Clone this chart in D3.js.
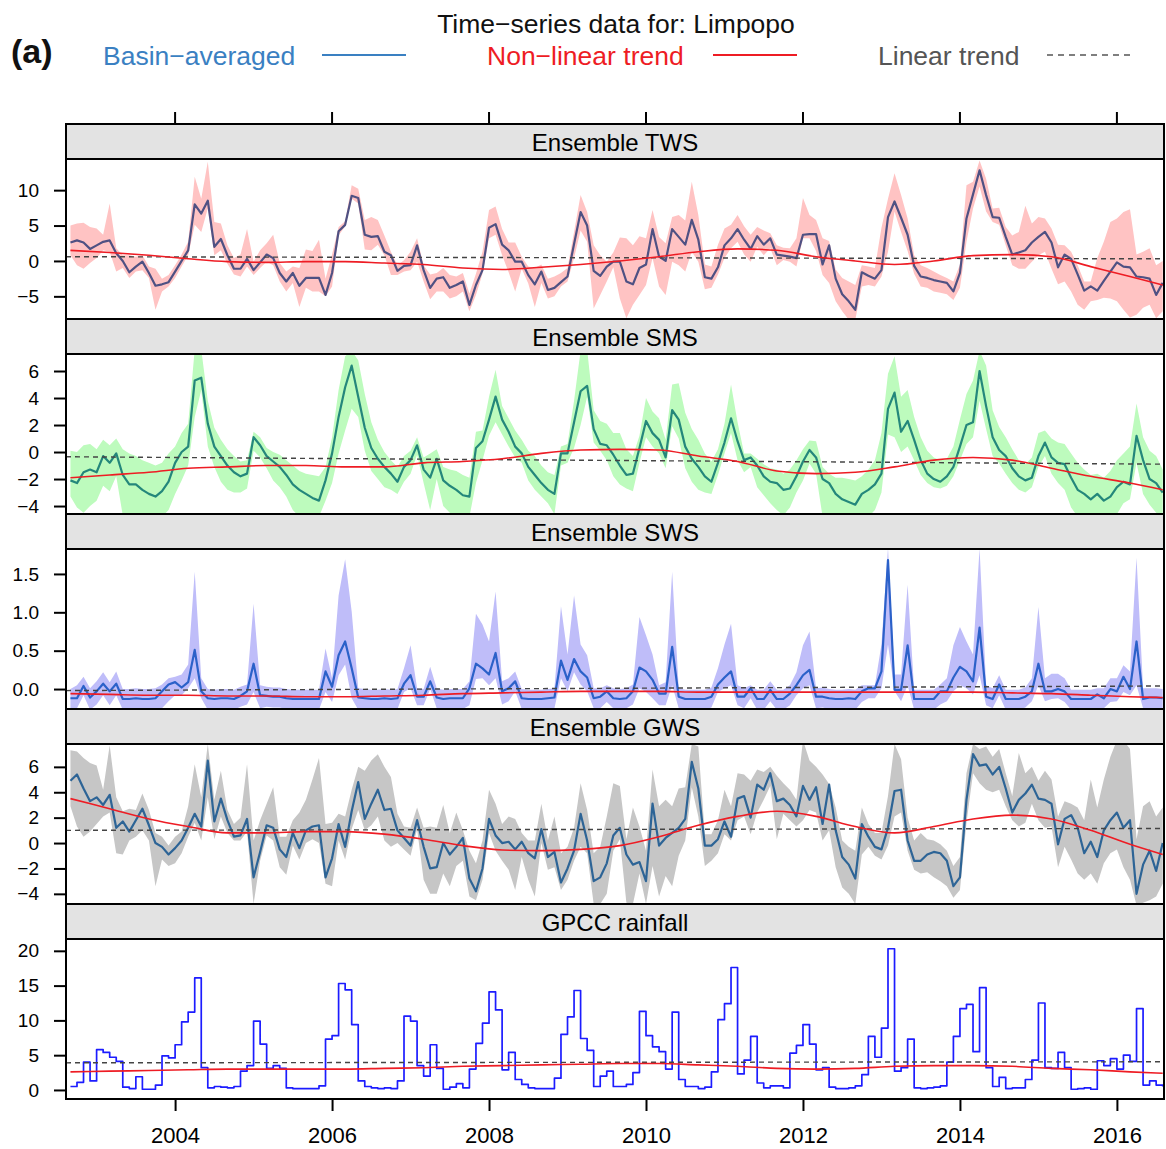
<!DOCTYPE html>
<html>
<head>
<meta charset="utf-8">
<script src="https://cdn.jsdelivr.net/npm/d3@7"></script>
<style>
body { margin: 0; background: #fff; }
text { font-family: "Liberation Sans", Arial, sans-serif; }
</style>
</head>
<body>
<svg id="chart" width="1166" height="1149"></svg>
<script>
// monthly series, Aug 2002 - Jul 2016 (168 months)
var startYear = 2002, startMonth = 8, nMonths = 168;

var twsValues = [2.6,2.9,2.6,1.7,2.2,2.7,2.9,1.1,0,-1.6,
-0.8,-0.1,-1.7,-3.5,-3.3,-3.0,-1.5,0,1.5,8.0,
6.7,8.5,2.0,3.1,0.8,-1.1,-1.1,0.3,-1.3,-0.2,
0.9,0.4,-1.7,-2.9,-1.7,-3.5,-2.4,-2.4,-2.4,-4.8,
-1.7,4.2,5.1,9.2,8.9,3.7,3.4,3.5,1.3,0.8,
-1.4,-0.7,-0.6,2.2,-1.3,-3.8,-2.5,-2.3,-3.8,-3.4,
-2.9,-6.2,-3.4,-1.3,4.7,5.2,2.3,1.5,-0.1,-0.1,
-2.0,-3.3,-1.5,-4.1,-3.8,-3.0,-2.2,2.4,6.9,5.0,
-1.4,-2.1,-0.8,-0.1,
-0.1,-2.9,-3.3,-1.0,-0.5,4.5,0.6,0,4.5,3.4,
2.3,5.8,3.0,-2.3,-2.5,-0.9,2.2,3.2,4.5,3.0,
1.7,3.5,2.3,3.2,0.9,0.75,0.6,0.4,3.7,3.8,
3.8,-0.5,2.2,-2.5,-4.7,-5.7,-6.9,-1.6,-2.1,-2.5,
-1.3,6.2,8.4,6.1,3.7,-0.7,-2.2,-2.4,-2.7,-2.9,
-3.1,-4.3,-1.7,6.0,9.4,12.8,9.3,6.2,6.1,3.4,
0.9,1.2,1.5,2.6,3.4,4.1,2.6,-0.9,0.9,0.3,
-1.9,-4.2,-3.6,-4.2,-2.8,-1.5,-0.2,-0.8,-0.9,-2.2,
-2.3,-2.5,-4.8,-3.1];
var twsUpper = [2.4,2.4,2.8,3.1,2.4,1.0,5.2,0.7,0.8,2.4,
1.4,0.9,0.9,2.4,0.8,1.0,0.9,0.9,1.2,3.9,
2.1,5.5,3.5,2.2,1.4,1.5,2.0,4.2,1.2,1.7,
1.6,3.3,1.4,1.4,0.9,2.5,4.0,3.8,5.4,2.3,
2.6,0.6,0.5,1.5,1.3,2.1,2.8,2.3,2.3,0.5,
0.8,0.8,1.9,1.0,0.7,1.9,0.8,1.3,1.8,1.2,
1.2,1.6,1.6,2.6,2.5,2.5,2.2,1.1,2.7,0.7,
1.2,2.3,1.0,1.6,1.6,1.3,1.2,1.7,2.4,1.9,
3.6,2.9,0.7,1.3,
3.4,6.1,5.5,4.5,3.7,2.7,2.8,2.5,1.7,3.1,
3.4,5.4,3.5,1.8,1.7,3.2,2.4,1.9,2.0,1.9,
2.0,1.3,2.0,0.7,1.3,1.1,1.2,2.8,5.2,2.7,
2.0,3.7,0.6,1.3,2.3,2.8,3.5,1.0,1.3,1.5,
6.0,2.6,4.0,3.2,2.3,1.5,1.6,1.4,1.2,0.9,
0.7,1.4,1.2,4.7,1.8,1.4,2.3,1.2,1.4,1.4,
2.7,2.9,6.3,2.7,2.8,1.9,2.0,3.2,1.3,1.0,
1.3,1.3,0.7,4.6,5.5,7.0,6.2,7.7,8.2,3.1,
3.6,4.3,4.2,3.1];
var twsLower = [1.8,3.5,3.7,2.0,1.8,1.2,1.6,2.6,1.0,0.8,
0.7,1.2,0.7,3.4,1.0,0.6,0.9,0.8,0.7,2.9,
2.6,1.1,1.2,1.6,1.2,0.8,1.1,1.1,0.7,0.8,
1.0,1.0,1.2,1.4,1.4,3.0,1.4,1.9,1.9,0.2,
1.9,0.6,0.2,0.4,0.8,2.1,1.9,1.2,0.5,2.8,
0.6,0.8,0.7,2.3,1.6,1.6,1.8,2.0,1.5,1.6,
1.4,0.9,1.4,0.5,1.5,1.5,1.5,3.1,4.2,1.0,
1.2,3.2,1.6,1.2,1.2,0.6,0.7,2.0,2.6,2.3,
5.3,2.7,2.1,0.8,
5.2,5.2,2.9,3.8,2.9,4.1,4.2,4.8,4.6,4.0,
3.8,4.5,3.1,1.7,1.3,1.0,1.8,1.4,1.8,2.1,
1.8,1.5,1.5,1.4,1.5,0.6,0.7,1.2,0.5,0.6,
2.4,1.5,5.3,3.2,2.4,2.6,1.4,2.0,1.3,1.1,
0.9,4.9,1.4,2.0,2.3,1.1,1.4,1.4,1.6,1.6,
1.6,1.2,2.1,3.3,2.0,2.3,2.3,0.7,1.0,1.2,
1.5,2.3,2.6,2.7,2.6,2.8,3.7,2.4,3.8,4.6,
4.3,2.7,2.1,1.3,2.4,3.8,5.5,6.1,7.1,5.4,
4.3,3.7,3.3,4.0];

var smsValues = [-2.1,-2.3,-1.5,-1.3,-1.5,-0.3,-0.8,-0.1,-1.7,-2.4,
-2.4,-2.8,-3.1,-3.3,-2.9,-2.2,-0.8,0,0.4,5.3,
5.5,2.1,0.4,-0.3,-1.0,-1.5,-1.8,-1.6,1.1,0.5,
-0.3,-0.7,-1.1,-1.7,-2.4,-2.8,-3.1,-3.4,-3.6,-2.1,
-0.1,2.6,4.8,6.4,4.1,1.8,0.3,-0.5,-1.1,-1.6,
-2.2,-1.1,-0.6,0.5,-1.3,-1.9,-0.5,-2.1,-2.5,-2.8,
-3.2,-3.3,0.3,0.8,2.4,4.1,2.4,1.5,0.4,-0.1,
-1.1,-1.7,-2.3,-2.8,-3.1,-0.1,-0.1,2.2,4.5,4.9,
1.7,0.6,0.5,-0.2,
-1.0,-1.7,-1.6,0.3,2.3,1.4,0.9,-0.4,3.1,2.4,
0.4,-0.5,-1.1,-1.8,-2.2,-0.8,0.7,2.5,0.8,-0.6,
-0.4,-1.0,-1.8,-2.2,-2.3,-2.8,-2.7,-1.8,-0.7,0.15,
-0.4,-2.0,-2.3,-3.1,-3.5,-3.7,-3.9,-3.1,-2.8,-2.4,
-1.6,3.2,4.4,1.5,2.3,0.9,-0.6,-1.6,-2.0,-2.2,
-1.8,-1.1,0.4,2.0,2.2,6.0,3.4,1.1,0.15,-0.3,
-1.2,-1.8,-2.1,-1.9,-0.3,0.7,-0.4,-0.8,-0.9,-1.9,
-2.8,-3.1,-3.5,-3.1,-3.6,-3.3,-2.6,-2.2,-2.4,1.2,
-0.6,-2.0,-2.3,-3.0];
var smsUpper = [2.2,2.3,2.0,1.9,1.7,1.2,1.3,1.1,1.9,2.3,
2.1,2.2,2.3,2.3,2.1,2.1,1.2,1.4,1.7,2.3,
2.1,1.7,1.4,1.2,1.2,1.2,1.1,1.0,0.4,0.6,
0.6,0.7,0.9,1.1,1.4,1.4,1.5,1.7,1.8,1.0,
1.2,2.0,2.3,1.1,2.7,2.5,1.9,1.4,1.1,1.0,
1.1,0.8,0.7,0.6,0.9,1.8,0.7,1.0,1.2,1.4,
1.5,1.4,1.2,0.8,1.7,2.0,1.0,1.0,1.2,1.0,
1.2,1.4,1.3,1.3,1.4,0.5,0.7,1.6,3.0,2.7,
1.4,1.7,1.6,1.6,
2.4,1.9,1.3,0.9,1.7,1.6,1.6,1.3,1.9,2.7,
2.5,2.2,2.0,1.7,1.5,1.0,1.4,2.5,1.4,0.5,
0.3,0.5,0.9,1.0,1.0,1.2,1.4,1.2,0.9,0.7,
1.2,0.9,0.7,1.2,1.6,1.7,1.8,1.3,1.5,1.8,
3.0,2.6,2.7,2.6,2.3,1.7,1.7,1.7,1.6,1.6,
1.3,1.5,2.0,2.3,3.1,1.5,3.0,2.0,1.7,1.4,
1.4,1.2,1.2,1.5,1.7,0.9,1.4,1.5,1.5,1.8,
2.0,1.8,1.8,1.5,1.7,1.9,2.0,2.1,2.8,2.4,
1.7,2.1,2.0,1.7];
var smsLower = [1.2,1.8,3.0,2.7,2.1,2.2,2.1,1.7,3.0,2.4,
2.3,2.0,1.7,1.5,1.9,2.1,2.3,2.1,1.4,2.7,
0.9,1.7,1.5,1.9,1.8,1.5,1.2,1.1,1.0,0.9,
0.9,1.4,1.5,1.6,1.9,2.0,1.7,1.4,1.2,1.5,
2.2,2.7,3.2,3.2,1.5,1.7,1.7,1.5,1.5,1.2,
0.9,1.1,1.0,0.7,1.0,2.4,1.5,1.9,2.0,2.0,
1.6,1.5,2.6,1.4,1.2,1.9,1.1,1.1,0.8,0.7,
1.0,1.1,1.0,1.0,1.5,0.9,0.7,1.9,2.5,0.8,
1.0,0.5,1.1,1.6,
1.4,1.0,1.3,1.1,1.2,1.0,1.0,0.8,1.2,1.4,
1.6,1.7,1.7,1.2,0.9,0.9,0.8,1.1,1.4,0.9,
0.7,1.6,1.4,1.6,2.0,1.9,1.4,1.2,1.4,1.0,
1.2,2.8,2.5,1.7,1.3,1.1,0.9,1.7,2.0,1.9,
1.4,1.9,3.3,1.5,1.9,1.5,1.1,0.7,0.6,0.5,
0.7,0.7,1.0,1.4,1.1,2.2,1.7,1.4,1.0,1.3,
1.1,1.0,0.9,0.7,0.8,1.0,1.2,1.5,1.9,2.2,
2.0,1.7,1.3,1.7,1.2,1.5,2.0,1.6,1.1,2.0,
2.5,1.9,2.2,1.8];

var swsValues = [-0.12,-0.12,0.04,-0.11,-0.03,0.07,-0.03,0.07,-0.13,-0.13,
-0.12,-0.13,-0.13,-0.12,-0.03,0.06,0.09,0.02,0.09,0.51,
-0.03,-0.12,-0.13,-0.12,-0.12,-0.13,-0.09,-0.03,0.33,-0.08,
-0.09,-0.1,-0.1,-0.12,-0.13,-0.13,-0.13,-0.13,-0.13,0.23,
0.03,0.44,0.62,0.27,-0.11,-0.12,-0.13,-0.13,-0.12,-0.13,
-0.12,0.07,0.18,-0.1,-0.1,0.1,-0.11,-0.13,-0.12,-0.12,
-0.12,0.01,0.33,0.27,0.19,0.47,-0.03,0.01,0.1,-0.12,
-0.13,-0.13,-0.13,-0.12,-0.11,0.37,0.12,0.39,0.23,0.15,
-0.12,-0.1,-0.03,-0.12,
-0.13,-0.12,-0.03,0.28,0.23,0.12,-0.06,-0.06,0.55,-0.1,
-0.13,-0.13,-0.13,-0.13,-0.1,0.06,0.15,0.23,-0.1,-0.1,
0.01,-0.13,-0.13,-0.01,-0.13,-0.13,-0.06,0.05,0.18,0.25,
-0.1,-0.1,-0.12,-0.13,-0.13,-0.12,-0.13,-0.03,0.01,0.01,
0.23,1.68,-0.01,-0.01,0.57,-0.13,-0.13,-0.13,-0.13,-0.03,
-0.03,0.15,0.29,0.23,0.1,0.8,-0.1,-0.13,0.06,-0.13,
-0.13,-0.13,-0.1,-0.03,0.33,-0.03,-0.03,0,-0.03,-0.13,
-0.13,-0.13,-0.13,-0.07,-0.12,0,-0.03,0.16,0,0.62,
-0.13,-0.11,-0.11,-0.12];
var swsUpper = [0.12,0.17,0.12,0.12,0.13,0.15,0.12,0.16,0.13,0.13,
0.13,0.13,0.13,0.13,0.09,0.08,0.07,0.17,0.23,1.02,
0.17,0.12,0.12,0.12,0.12,0.12,0.12,0.09,0.78,0.13,
0.12,0.12,0.12,0.12,0.12,0.12,0.12,0.12,0.12,0.30,
0.11,0.78,1.07,0.74,0.12,0.12,0.12,0.12,0.12,0.12,
0.12,0.2,0.39,0.11,0.1,0.19,0.12,0.12,0.12,0.12,
0.12,0.09,0.65,0.57,0.43,0.8,0.13,0.13,0.13,0.12,
0.12,0.12,0.12,0.12,0.12,0.71,0.33,0.83,0.35,0.29,
0.13,0.11,0.08,0.13,
0.13,0.13,0.09,0.66,0.47,0.33,0.11,0.15,0.98,0.11,
0.12,0.12,0.12,0.12,0.12,0.21,0.43,0.62,0.15,0.11,
0.04,0.12,0.12,0.11,0.12,0.12,0.11,0.17,0.39,0.5,
0.11,0.12,0.12,0.12,0.12,0.12,0.12,0.08,0.04,0.04,
0.35,0.16,0.2,0.2,0.79,0.12,0.12,0.12,0.12,0.09,
0.17,0.42,0.52,0.39,0.35,1.03,0.15,0.14,0.12,0.12,
0.12,0.12,0.12,0.17,0.74,0.17,0.23,0.2,0.17,0.12,
0.12,0.12,0.12,0.08,0.13,0.14,0.17,0.15,0.23,1.09,
0.14,0.12,0.12,0.12];
var swsLower = [0.13,0.13,0.12,0.16,0.17,0.15,0.18,0.15,0.14,0.14,
0.14,0.14,0.14,0.14,0.22,0.22,0.17,0.10,0.08,0.37,
0.09,0.15,0.14,0.14,0.14,0.14,0.14,0.17,0.37,0.17,
0.14,0.14,0.14,0.14,0.14,0.14,0.14,0.14,0.14,0.27,
0.2,0.26,0.3,0.39,0.16,0.14,0.14,0.14,0.14,0.14,
0.14,0.11,0.17,0.11,0.11,0.10,0.14,0.14,0.14,0.14,
0.14,0.22,0.2,0.13,0.14,0.33,0.17,0.17,0.13,0.14,
0.14,0.14,0.14,0.14,0.14,0.23,0.15,0.17,0.17,0.18,
0.13,0.15,0.14,0.13,
0.14,0.13,0.17,0.27,0.27,0.24,0.15,0.15,0.5,0.15,
0.14,0.14,0.14,0.14,0.14,0.1,0.14,0.18,0.11,0.15,
0.13,0.14,0.14,0.15,0.14,0.14,0.15,0.13,0.17,0.2,
0.15,0.14,0.14,0.14,0.14,0.14,0.14,0.14,0.13,0.13,
0.22,1.1,0.02,0.15,0.52,0.14,0.14,0.14,0.14,0.17,
0.13,0.18,0.24,0.22,0.17,0.62,0.11,0.12,0.14,0.14,
0.14,0.14,0.14,0.13,0.28,0.13,0.1,0.12,0.14,0.14,
0.14,0.14,0.14,0.18,0.13,0.17,0.13,0.2,0.08,0.57,
0.12,0.14,0.14,0.14];

var gwsValues = [4.9,5.4,4.3,3.3,3.6,3.0,3.8,1.2,1.7,0.9,
1.8,2.7,1.4,0,-0.3,-0.9,-0.4,0.2,1.2,2.3,
1.3,6.5,1.7,3.5,1.8,0.5,0.6,1.9,-2.7,-0.7,
1.4,1.2,-0.5,-1.1,0.8,-0.4,1.0,1.3,1.4,-2.7,
-1.2,1.5,-0.3,2.5,4.8,1.9,3.1,4.2,2.6,2.7,
1.0,0.4,-0.2,1.8,-0.3,-2.0,-1.9,0,-0.9,-0.3,
0.4,-2.8,-3.8,-2.0,1.9,0.6,0,0.1,-0.5,0.1,
-0.8,-1.2,1.1,-1.1,-0.7,-3.1,-2.0,-0.6,2.3,0.2,
-3.0,-2.7,-1.6,0.6,
1.2,-0.9,-1.7,-1.5,-3.0,3.1,-0.2,0.4,0.8,1.2,
1.9,6.4,4.3,-0.2,-0.2,0.3,1.7,0.5,3.5,3.7,
2.0,4.6,4.2,5.5,3.3,3.5,3.0,2.1,4.5,3.4,
4.4,1.5,4.6,1.0,-1.1,-1.7,-2.8,1.5,0.5,-0.3,
-0.5,1.2,4.1,4.2,0.2,-1.4,-1.4,-0.9,-0.7,-0.8,
-1.4,-3.4,-2.7,3.4,7.0,6.1,6.2,5.4,6.0,4.3,
2.4,3.4,3.9,4.6,3.5,3.4,3.1,-0.1,1.9,2.2,
1.2,-0.8,0.1,-1.1,1.0,1.8,2.4,1.2,1.8,-4.0,
-1.7,-0.6,-2.2,0];
var gwsUpper = [2.4,1.8,2.4,3.0,2.5,1.2,3.9,2.4,0.8,1.8,
0.8,1.2,1.2,0.8,0.8,0.7,0.9,0.7,1.7,3.9,
2.3,1.3,1.7,2.2,0.8,1.0,1.4,4.3,2.9,2.5,
1.7,3.2,1.0,1.6,1.0,2.8,2.4,3.7,5.3,4.2,
2.8,0.8,2.4,1.7,1.2,3.8,3.4,2.8,3.4,2.5,
1.3,0.9,1.4,1.0,1.5,3.3,3.1,3.0,1.7,2.7,
0.6,2.2,2.2,2.2,2.3,2.5,1.5,2.0,2.4,0.7,
1.0,1.4,2.0,1.3,2.8,2.3,1.7,1.8,2.4,2.4,
2.2,2.4,3.7,4.1,
3.3,1.2,4.5,2.8,2.4,2.7,3.1,3.0,2.1,3.1,
2.5,1.4,3.3,0.9,0.9,1.5,2.5,2.4,2.0,1.7,
2.9,1.2,1.4,0.5,2.0,1.2,1.2,1.3,3.6,3.1,
1.6,3.9,0.05,1.8,1.3,1.4,2.2,1.3,1.0,1.1,
1.3,2.5,3.7,2.4,1.8,1.6,2.2,1.2,0.9,0.7,
0.8,1.6,1.6,2.1,0.8,1.3,1.4,1.4,1.4,1.2,
1.3,3.7,1.6,1.4,1.4,2.3,1.9,2.2,1.4,0.9,
1.6,2.6,4.9,3.9,4.0,5.0,5.7,6.9,5.6,4.3,
4.6,3.9,4.3,2.8];
var gwsLower = [2.0,4.1,3.8,2.4,2.1,0.9,1.4,2.0,2.6,0.7,
1.3,1.7,1.2,3.4,1.0,0.9,1.2,1.0,0.7,0.7,
1.1,2.9,1.4,1.4,1.0,0.3,0.4,1.0,2.1,0.7,
0.8,1.0,1.4,1.4,1.0,0.9,1.0,1.0,1.4,0.5,
2.2,1.3,1.0,1.4,2.2,0.9,1.7,2.1,2.4,3.0,
1.0,0.9,0.8,0.7,2.6,2.0,2.1,2.4,2.5,1.5,
1.8,1.4,0.7,0.9,1.1,1.2,1.4,2.2,3.2,1.2,
2.1,3.0,1.1,1.0,1.2,0.6,0.9,0.8,2.6,1.0,
1.8,2.1,2.4,1.2,
0.9,3.8,3.1,0.9,1.8,4.9,4.0,3.0,4.2,2.2,
1.7,2.0,2.2,1.6,1.2,1.1,1.0,0.3,1.7,1.6,
1.3,2.2,0.8,1.0,3.0,1.2,1.2,0.8,2.7,0.8,
2.0,1.3,3.6,2.9,2.4,2.3,2.0,2.4,0.8,0.7,
0.8,1.4,2.0,1.8,0.8,0.7,1.0,1.4,2.0,2.2,
2.0,0.9,1.0,1.8,1.5,1.4,2.0,1.4,1.8,1.4,
0.6,2.1,2.3,1.5,1.7,2.2,1.8,1.8,2.2,3.5,
3.6,2.1,2.5,2.1,2.6,2.6,2.9,3.1,4.7,0.9,
3.0,3.9,2.0,3.2];

var gpccValues = [0.5,1.1,4.0,1.3,5.8,5.4,4.7,4.1,0.4,0.2,
1.9,0.1,0.1,0.7,4.9,4.6,6.5,9.8,11.2,16.1,
3.2,0.3,0.5,0.4,0.3,0.5,2.7,3.5,9.9,6.6,
3.1,3.5,3.1,0.3,0.2,0.2,0.2,0.2,0.6,7.3,
7.8,15.3,14.4,9.4,1.3,0.5,0.3,0.2,0.3,0.2,
1.3,10.6,9.9,3.5,2.0,6.5,3.1,0.1,0.4,0.9,
0.3,3.0,6.7,9.6,14.1,11.5,2.9,5.4,1.5,0.8,
0.3,0.2,0.2,0.2,1.7,8.0,10.5,14.3,7.4,5.7,
0.5,2.0,2.7,0.5,
0.5,0.8,2.5,11.3,7.8,6.2,5.5,3.0,11.2,1.5,
0.5,0.5,0.2,0.4,2.6,10.1,12.4,17.6,2.3,4.3,
7.7,1.0,0.3,0.6,0.6,0.3,5.3,6.4,9.4,6.6,
2.9,3.2,0.4,0.2,0.2,0.3,0.6,2.2,7.7,4.7,
8.9,20.3,2.7,3.2,7.3,0.3,0.2,0.3,0.4,0.6,
4.0,7.7,11.7,12.3,5.5,14.7,3.2,0.5,1.8,0.2,
0.3,0.3,1.5,4.3,12.5,3.2,3.1,5.4,3.2,0.1,
0.2,0.3,0.1,4.2,3.5,4.5,3.0,5.0,4.1,11.7,
0.7,1.3,0.7,0.5];

// non-linear trends, sampled every 6 months (plus last month)
var twsTrend  = [1.5,1.2,0.8,0.3,-0.1,-0.2,-0.1,-0.1,-0.3,-0.5,-1.0,-1.2,-0.9,-0.5,0,0.6,1.3,1.7,1.5,0.6,0,-0.5,0,0.75,0.9,0.6,-0.8,-2.2,-3.4];
var smsTrend  = [-1.9,-1.7,-1.5,-1.2,-1.1,-1.0,-1.0,-1.1,-1.1,-0.8,-0.7,-0.5,-0.1,0.15,0.2,0.15,-0.3,-0.7,-1.4,-1.6,-1.5,-1.1,-0.6,-0.4,-0.6,-1.2,-1.8,-2.3,-2.8];
var swsTrend  = [-0.06,-0.07,-0.08,-0.08,-0.09,-0.09,-0.1,-0.1,-0.09,-0.08,-0.06,-0.05,-0.04,-0.03,-0.03,-0.03,-0.04,-0.04,-0.04,-0.04,-0.04,-0.04,-0.04,-0.04,-0.05,-0.06,-0.08,-0.1,-0.11];
var gwsTrend  = [3.5,2.7,1.9,1.3,0.8,0.8,0.9,0.9,0.7,0.3,-0.2,-0.55,-0.6,-0.5,-0.2,0.5,1.4,2.1,2.5,2.1,1.3,0.8,1.3,1.9,2.2,1.9,1.0,-0.1,-0.9];
var gpccTrend = [2.6,2.7,2.8,2.9,3.0,3.0,3.0,3.0,3.1,3.2,3.4,3.5,3.6,3.7,3.8,3.8,3.6,3.4,3.1,3.0,3.1,3.4,3.5,3.5,3.4,3.1,2.9,2.6,2.4];

// linear trend at left and right edge
var twsLinear = [0.6, 0.3];
var smsLinear = [-0.35, -0.9];
var swsLinear = [-0.02, 0.04];
var gwsLinear = [1.0, 1.15];
var gpccLinear = [3.9, 4.05];

var panelNames = ["Ensemble TWS", "Ensemble SMS", "Ensemble SWS", "Ensemble GWS", "GPCC rainfall"];
var yearTicks = [2004, 2006, 2008, 2010, 2012, 2014, 2016];
var twsTicks = [-5, 0, 5, 10];
var smsTicks = [-4, -2, 0, 2, 4, 6];
var swsTicks = [0, 0.5, 1.0, 1.5];
var gwsTicks = [-4, -2, 0, 2, 4, 6];
var gpccTicks = [0, 5, 10, 15, 20];

var months = d3.range(nMonths).map(function(i){ return startYear + (startMonth + i) / 12; });
var trendIdx = d3.range(0, nMonths, 6).concat([nMonths - 1]);

var panels = [
  {name: panelNames[0], vals: twsValues, up: twsUpper, lo: twsLower, trend: twsTrend, lin: twsLinear,
   domain: [-8.2, 14.4], ticks: twsTicks, fmt: d3.format("d"), line: "#4f5183", band: "#ffc3c3"},
  {name: panelNames[1], vals: smsValues, up: smsUpper, lo: smsLower, trend: smsTrend, lin: smsLinear,
   domain: [-4.59, 7.26], ticks: smsTicks, fmt: d3.format("d"), line: "#24877b", band: "#bdfbbd"},
  {name: panelNames[2], vals: swsValues, up: swsUpper, lo: swsLower, trend: swsTrend, lin: swsLinear,
   domain: [-0.26, 1.825], ticks: swsTicks, fmt: d3.format(".1f"), line: "#2b61c9", band: "#bfbdf9"},
  {name: panelNames[3], vals: gwsValues, up: gwsUpper, lo: gwsLower, trend: gwsTrend, lin: gwsLinear,
   domain: [-4.8, 7.8], ticks: gwsTicks, fmt: d3.format("d"), line: "#2d6496", band: "#c6c6c6"},
  {name: panelNames[4], vals: gpccValues, trend: gpccTrend, lin: gpccLinear,
   domain: [-1.3, 21.7], ticks: gpccTicks, fmt: d3.format("d"), line: "#1c1cff", step: true}
];

var width = 1166, height = 1149;
var left = 66, right = 1164;
var firstTop = 124, stripH = 35, plotH = 160;
var minus = function(s){ return s.replace("-", "\u2212"); };

var svg = d3.select("#chart");
var x = d3.scaleLinear().domain([2002.61, 2016.6]).range([left, right]);

// title + legend
svg.append("text").attr("x", 616).attr("y", 33).attr("text-anchor", "middle")
   .attr("font-size", 26.5).attr("fill", "#111").text("Time\u2212series data for: Limpopo");
svg.append("text").attr("x", 11).attr("y", 63).attr("font-size", 34).attr("font-weight", "bold")
   .attr("fill", "#111").text("(a)");

var legend = [
  {label: "Basin\u2212averaged", color: "#3a80c2", tx: 103, lx: 322, dash: null},
  {label: "Non\u2212linear trend", color: "#ee1c24", tx: 487, lx: 713, dash: null},
  {label: "Linear trend", color: "#555555", tx: 878, lx: 1047, dash: "6,5"}
];
legend.forEach(function(d){
  svg.append("text").attr("x", d.tx).attr("y", 65).attr("font-size", 26.5)
     .attr("fill", d.color).text(d.label);
  svg.append("line").attr("x1", d.lx).attr("x2", d.lx + 84).attr("y1", 55).attr("y2", 55)
     .attr("stroke", d.color).attr("stroke-width", d.dash ? 1.6 : 2)
     .attr("stroke-dasharray", d.dash);
});

// top ticks
svg.selectAll(".toptick").data(yearTicks).enter().append("line")
   .attr("x1", function(d){ return x(d); }).attr("x2", function(d){ return x(d); })
   .attr("y1", firstTop - 12).attr("y2", firstTop)
   .attr("stroke", "#000").attr("stroke-width", 2);

panels.forEach(function(p, k){
  var top = firstTop + k * (stripH + plotH);
  var pTop = top + stripH, pBot = pTop + plotH;
  var y = d3.scaleLinear().domain(p.domain).range([pBot, pTop]);
  var g = svg.append("g");

  g.append("clipPath").attr("id", "clip" + k).append("rect")
   .attr("x", left).attr("y", pTop).attr("width", right - left).attr("height", plotH);
  var inner = g.append("g").attr("clip-path", "url(#clip" + k + ")");

  if (p.up) {
    var area = d3.area()
      .x(function(d, i){ return x(months[i]); })
      .y0(function(d, i){ return y(d - p.lo[i]); })
      .y1(function(d, i){ return y(d + p.up[i]); });
    inner.append("path").datum(p.vals).attr("d", area).attr("fill", p.band);
  }

  var line = d3.line()
    .x(function(d, i){ return x(months[i]); })
    .y(function(d){ return y(d); })
    .curve(p.step ? d3.curveStepAfter : d3.curveLinear);
  inner.append("path").datum(p.vals).attr("d", line).attr("fill", "none")
    .attr("stroke", p.line).attr("stroke-width", p.step ? 1.7 : 2.2)
    .attr("stroke-linejoin", "round");

  // linear trend
  inner.append("line")
    .attr("x1", x(x.domain()[0])).attr("x2", x(x.domain()[1]))
    .attr("y1", y(p.lin[0])).attr("y2", y(p.lin[1]))
    .attr("stroke", "#444").attr("stroke-width", 1.4).attr("stroke-dasharray", "5,4");

  // non-linear trend
  var tline = d3.line()
    .x(function(d, j){ return x(months[trendIdx[j]]); })
    .y(function(d){ return y(d); })
    .curve(d3.curveMonotoneX);
  inner.append("path").datum(p.trend).attr("d", tline).attr("fill", "none")
    .attr("stroke", "#ee1c24").attr("stroke-width", 1.6);

  // strip
  g.append("rect").attr("x", left).attr("y", top).attr("width", right - left).attr("height", stripH)
   .attr("fill", "#e3e3e3").attr("stroke", "#000").attr("stroke-width", 2);
  g.append("text").attr("x", (left + right) / 2).attr("y", top + 26.5).attr("text-anchor", "middle")
   .attr("font-size", 24).attr("fill", "#000").text(p.name);

  // panel frame
  g.append("rect").attr("x", left).attr("y", pTop).attr("width", right - left).attr("height", plotH)
   .attr("fill", "none").attr("stroke", "#000").attr("stroke-width", 2);

  // y axis
  var yAxis = d3.axisLeft(y).tickValues(p.ticks).tickSize(12).tickPadding(15)
    .tickFormat(function(d){ return minus(p.fmt(d)); });
  var ya = g.append("g").attr("transform", "translate(" + left + ",0)").call(yAxis);
  ya.select(".domain").remove();
  ya.selectAll("line").attr("stroke", "#000").attr("stroke-width", 2);
  ya.selectAll("text").attr("font-size", 19).attr("fill", "#000")
    .attr("font-family", "Liberation Sans, Arial, sans-serif");

  if (k === panels.length - 1) {
    var xAxis = d3.axisBottom(x).tickValues(yearTicks).tickSize(12).tickPadding(16)
      .tickFormat(d3.format("d"));
    var xa = g.append("g").attr("transform", "translate(0," + pBot + ")").call(xAxis);
    xa.select(".domain").remove();
    xa.selectAll("line").attr("stroke", "#000").attr("stroke-width", 2);
    xa.selectAll("text").attr("font-size", 22).attr("fill", "#000")
      .attr("font-family", "Liberation Sans, Arial, sans-serif");
  }
});
</script>
</body>
</html>
